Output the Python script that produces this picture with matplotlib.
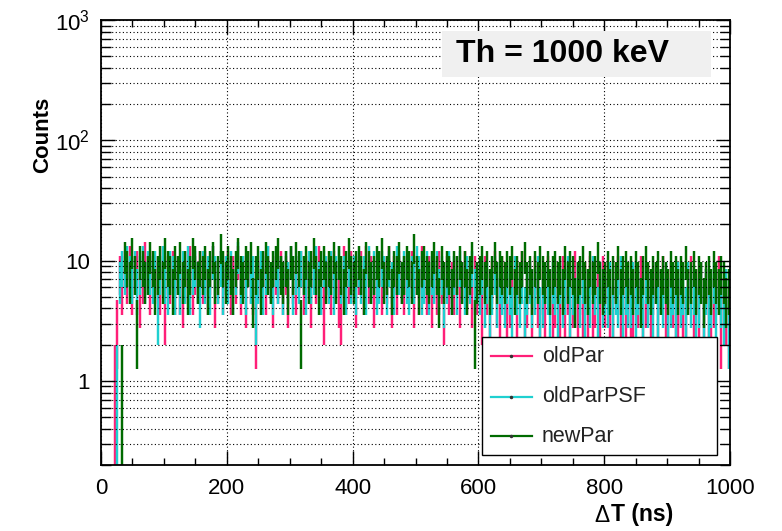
import numpy as np
import matplotlib
matplotlib.use("Agg")
import matplotlib.pyplot as plt
from matplotlib.patches import Rectangle
from matplotlib.lines import Line2D
from matplotlib.ticker import FixedLocator, NullFormatter, MultipleLocator

plt.rcParams["font.family"] = ["Liberation Sans", "DejaVu Sans"]
plt.rcParams["mathtext.fontset"] = "custom"
plt.rcParams["mathtext.rm"] = "Liberation Sans"
plt.rcParams["mathtext.it"] = "Liberation Sans:italic"
plt.rcParams["mathtext.bf"] = "Liberation Sans:bold"

# Time-difference histograms, 4 ns bins from 0 to 1000 ns
bin_width = 4.0
bin_edges = np.arange(0.0, 1000.0 + bin_width, bin_width)

old_par = [
    0, 0, 0, 0, 0, 1, 3, 8, 6, 9,
    7, 10, 6, 8, 9, 5, 7, 11, 8, 6,
    9, 7, 8, 6, 10, 4, 8, 7, 9, 6,
    8, 6, 5, 9, 7, 10, 6, 8, 7, 9,
    7, 9, 6, 8, 10, 5, 7, 9, 6, 8,
    9, 6, 8, 7, 10, 6, 8, 5, 9, 7,
    6, 3, 8, 7, 9, 6, 10, 7, 5, 8,
    7, 9, 6, 8, 5, 10, 7, 6, 8, 9,
    6, 8, 7, 5, 9, 7, 10, 6, 4, 7,
    8, 6, 9, 7, 5, 4, 10, 6, 7, 9,
    7, 5, 8, 9, 6, 10, 7, 8, 5, 7,
    9, 6, 8, 7, 10, 5, 8, 6, 9, 7,
    6, 8, 7, 9, 5, 8, 6, 10, 7, 6,
    8, 5, 7, 6, 9, 7, 4, 8, 6, 7,
    6, 8, 5, 7, 9, 6, 7, 5, 8, 6,
    7, 4, 8, 6, 3, 7, 9, 5, 4, 8,
    6, 3, 5, 8, 6, 4, 7, 9, 3, 5,
    7, 4, 8, 5, 3, 6, 4, 8, 6, 3,
    5, 7, 3, 8, 4, 6, 3, 5, 9, 4,
    6, 3, 7, 4, 8, 3, 5, 7, 4, 8,
    5, 7, 3, 4, 7, 8, 3, 6, 4, 5,
    3, 4, 7, 5, 8, 3, 5, 7, 4, 6,
    7, 3, 6, 8, 4, 3, 7, 5, 3, 4,
    5, 3, 4, 6, 8, 3, 6, 4, 7, 3,
    6, 4, 3, 5, 6, 8, 3, 5, 4, 3,
]

old_par_psf = [
    0, 0, 0, 0, 0, 0, 1, 7, 9, 8,
    10, 8, 7, 9, 6, 8, 10, 7, 9, 8,
    7, 9, 4, 8, 10, 7, 6, 9, 8, 6,
    8, 6, 9, 7, 10, 6, 8, 9, 7, 5,
    9, 7, 8, 6, 10, 8, 7, 9, 6, 8,
    7, 9, 6, 8, 11, 7, 8, 6, 9, 7,
    8, 4, 7, 9, 6, 8, 10, 7, 6, 9,
    7, 8, 6, 9, 7, 10, 6, 8, 7, 9,
    8, 6, 9, 7, 8, 10, 7, 6, 9, 8,
    7, 9, 6, 8, 10, 7, 8, 6, 9, 7,
    8, 6, 9, 7, 8, 6, 10, 7, 9, 6,
    7, 9, 8, 6, 9, 7, 6, 10, 8, 7,
    9, 7, 6, 8, 7, 10, 8, 6, 7, 9,
    6, 8, 7, 9, 6, 8, 5, 7, 9, 6,
    8, 6, 9, 7, 6, 8, 7, 9, 6, 7,
    6, 8, 5, 7, 4, 6, 8, 5, 7, 6,
    5, 7, 6, 4, 8, 6, 5, 7, 4, 6,
    7, 5, 6, 8, 4, 5, 7, 6, 4, 7,
    6, 4, 7, 5, 6, 8, 4, 6, 5, 7,
    5, 7, 4, 6, 5, 8, 6, 4, 7, 5,
    6, 5, 7, 4, 6, 5, 8, 4, 6, 5,
    5, 7, 4, 6, 5, 4, 7, 5, 6, 4,
    7, 4, 6, 5, 7, 4, 5, 6, 4, 7,
    5, 6, 4, 7, 5, 6, 4, 5, 7, 4,
    6, 4, 5, 7, 4, 6, 5, 4, 6, 3,
]

new_par = [
    0, 0, 0, 0, 0, 0, 0, 0, 1, 11,
    9, 7, 12, 8, 3, 10, 9, 7, 8, 11,
    9, 6, 8, 10, 7, 12, 9, 8, 6, 10,
    8, 11, 7, 9, 6, 8, 12, 10, 7, 9,
    8, 10, 6, 9, 11, 7, 8, 13, 9, 7,
    10, 8, 6, 9, 12, 8, 7, 10, 9, 11,
    5, 8, 10, 6, 9, 11, 8, 7, 9, 10,
    12, 8, 7, 9, 6, 10, 8, 11, 9, 3,
    8, 10, 7, 9, 12, 8, 6, 9, 10, 7,
    9, 8, 11, 7, 10, 8, 6, 9, 12, 8,
    7, 9, 10, 8, 6, 11, 9, 7, 8, 10,
    9, 12, 7, 8, 10, 6, 9, 8, 11, 7,
    8, 10, 9, 7, 13, 8, 6, 9, 10, 8,
    7, 9, 11, 8, 5, 10, 7, 9, 8, 6,
    9, 8, 10, 7, 9, 6, 8, 11, 3, 7,
    8, 10, 7, 9, 6, 8, 11, 7, 9, 8,
    7, 9, 8, 10, 6, 8, 7, 9, 11, 7,
    8, 6, 9, 7, 10, 8, 7, 9, 6, 8,
    9, 7, 8, 6, 10, 7, 9, 8, 5, 7,
    8, 10, 7, 6, 9, 7, 8, 11, 7, 6,
    7, 9, 6, 8, 7, 10, 6, 8, 9, 7,
    8, 6, 9, 7, 5, 8, 10, 7, 6, 8,
    7, 9, 6, 8, 7, 6, 9, 7, 8, 6,
    8, 7, 10, 6, 7, 9, 6, 8, 7, 5,
    7, 8, 6, 9, 7, 6, 8, 7, 5, 6,
]

series_names = ["oldPar", "oldParPSF", "newPar"]
series_colors = ["#ff1f78", "#1fd0d0", "#006b00"]
series_counts = [old_par, old_par_psf, new_par]

title_text = "Th = 1000 keV"
y_title = "Counts"

W, H = 782, 531
fig = plt.figure(figsize=(W / 100, H / 100), dpi=100)
L, R, T, B = 101, 730, 20, 465
ax = fig.add_axes([L / W, 1 - B / H, (R - L) / W, (B - T) / H])

ax.set_yscale("log")
ax.set_xlim(0, 1000)
ax.set_ylim(0.2, 1000)

# Each bin drawn as a vertical error bar N +/- sqrt(N)
centers = 0.5 * (bin_edges[:-1] + bin_edges[1:])
for counts, color in zip(series_counts, series_colors):
    n = np.asarray(counts, dtype=float)
    m = n > 0
    x = centers[m]
    y = n[m]
    err = np.sqrt(y)
    lo = np.maximum(y - err, 0.05)
    hi = y + err
    ax.vlines(x, lo, hi, colors=color, linewidth=1.75, zorder=2)

# Axes, ticks and grid
ax.xaxis.set_major_locator(MultipleLocator(200))
ax.xaxis.set_minor_locator(MultipleLocator(50))
ax.yaxis.set_major_locator(FixedLocator([1, 10, 100, 1000]))
minor_y = [k * 10.0 ** e for e in range(-1, 3) for k in range(2, 10)]
ax.yaxis.set_minor_locator(FixedLocator([v for v in minor_y if v >= 0.2]))
ax.yaxis.set_minor_formatter(NullFormatter())
ax.set_yticklabels(["1", "10", r"$\mathregular{10^{2}}$", r"$\mathregular{10^{3}}$"])
ax.set_xticks([0, 200, 400, 600, 800, 1000])
ax.set_xticklabels(["0", "200", "400", "600", "800", "1000"])

ax.tick_params(axis="both", which="both", direction="in", top=True, right=True,
               labelsize=16, width=1.0, color="black")
ax.tick_params(axis="x", which="major", length=10, pad=9)
ax.tick_params(axis="x", which="minor", length=5)
ax.tick_params(axis="y", which="major", length=10, pad=8)
ax.tick_params(axis="y", which="minor", length=7)

ax.set_axisbelow(False)
grid_style = dict(color="black", linestyle=(0, (1, 2.2)), linewidth=0.8)
ax.grid(True, axis="x", which="major", **grid_style)
ax.grid(True, axis="y", which="both", **grid_style)

for s in ax.spines.values():
    s.set_linewidth(1.3)
    s.set_zorder(3)

# Axis titles
fig.text(43 / W, 1 - 135 / H, y_title, rotation=90, ha="center", va="center",
         fontsize=16, fontweight="bold")
t_unit = fig.text(673 / W, 1 - 515 / H, "T (ns)", ha="right", va="center",
                  fontsize=16.5, fontweight="bold")
fig.canvas.draw()
bb = t_unit.get_window_extent()
fig.text(bb.x0 / W - 0.001, 1 - 515 / H, "\u0394", ha="right", va="center",
         fontsize=16.5)

# Threshold label
def fig_rect(x0, y0, x1, y1, **kw):
    return Rectangle((x0 / W, 1 - y1 / H), (x1 - x0) / W, (y1 - y0) / H,
                     transform=fig.transFigure, **kw)

fig.patches.append(fig_rect(442, 31, 711, 77, facecolor="#f0f0f0",
                            edgecolor="none", zorder=5))
fig.text(456 / W, 1 - 54 / H, title_text, ha="left", va="center",
         fontsize=23, fontweight="bold", zorder=6)

# Legend
fig.patches.append(fig_rect(482, 337, 717, 455, facecolor="white",
                            edgecolor="black", linewidth=1.0, zorder=5))
entry_y = [356, 397, 436]
for name, color, yy in zip(series_names, series_colors, entry_y):
    fy = 1 - yy / H
    fig.lines.append(Line2D([491 / W, 532 / W], [fy, fy], color=color,
                            linewidth=1.6, transform=fig.transFigure, zorder=6))
    fig.lines.append(Line2D([511.5 / W], [fy], marker="o", markersize=1.5,
                            color="#333333", transform=fig.transFigure, zorder=7))
    fig.text(542 / W, fy, name, ha="left", va="center", fontsize=15.5,
             color="#222222", zorder=7)

fig.savefig("out.png", dpi=100)
